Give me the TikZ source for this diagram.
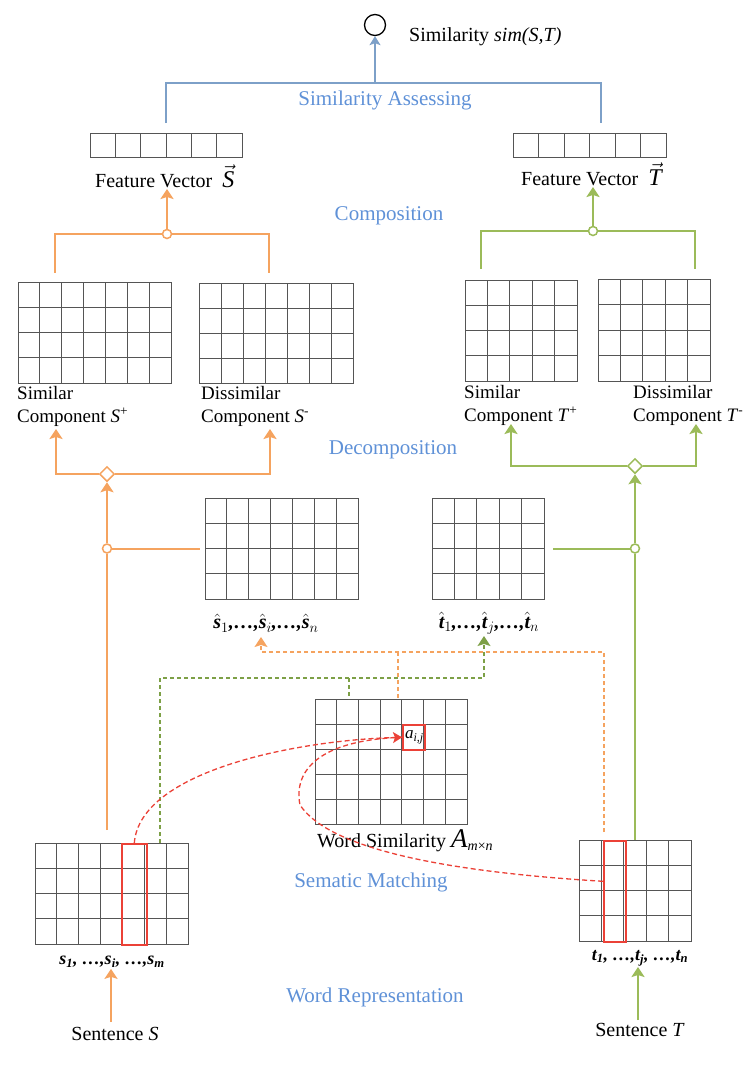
\documentclass[tikz,border=0pt]{standalone}
\usepackage{fontspec}
\setmainfont{Liberation Serif}
\usetikzlibrary{arrows.meta,shapes.geometric,calc}

\definecolor{orn}{RGB}{245,163,95}
\definecolor{grn}{RGB}{155,187,89}
\definecolor{grnd}{RGB}{125,160,70}
\definecolor{blu}{RGB}{95,145,215}
\definecolor{blul}{RGB}{125,160,200}
\definecolor{rd}{RGB}{235,65,55}
\definecolor{gridc}{RGB}{85,85,85}

\tikzset{
 gridbox/.style={draw=gridc, line width=1pt, inner sep=0pt, outer sep=0pt, anchor=north west},
 gridln/.style={draw=gridc, line width=0.9pt},
 lbl/.style={font=\fontsize{20}{23}\selectfont, inner sep=1pt},
 cmp/.style={font=\fontsize{19}{23}\selectfont, inner sep=1pt, anchor=west, align=left},
 idx/.style={font=\fontsize{18}{22}\selectfont\bfseries\itshape, inner sep=1pt},
 hidx/.style={font=\fontsize{20}{22}\selectfont\bfseries\itshape, inner sep=1pt},
 stage/.style={font=\fontsize{21}{24}\selectfont, text=blu, inner sep=1pt},
 oline/.style={draw=orn, line width=2pt},
 gline/.style={draw=grn, line width=2pt},
 bline/.style={draw=blul, line width=2pt},
 tipo/.style={-{Stealth[width=13pt,length=10pt,inset=2pt]}},
 oarr/.style={oline, tipo},
 garr/.style={gline, tipo},
 barr/.style={bline, -{Stealth[width=11pt,length=9pt,inset=2pt]}},
 junc/.style={circle, draw, fill=white, line width=1.5pt, minimum size=9pt, inner sep=0pt},
 djunc/.style={diamond, draw, fill=white, line width=1.5pt, minimum size=15pt, inner sep=0pt},
 odash/.style={draw=orn, line width=1.3pt, dash pattern=on 4pt off 3pt},
 gdash/.style={draw=grnd, line width=1.3pt, dash pattern=on 4pt off 3pt},
 rdash/.style={draw=rd, line width=1.3pt, dash pattern=on 5pt off 3pt},
 redbox/.style={draw=rd, line width=1.6pt, inner sep=0pt, anchor=north west},
}

% name, x1, y1, x2, y2, cols, rows
\newcommand\mkgrid[7]{%
  \node[gridbox, minimum width={(#4-#2)*1pt}, minimum height={(#5-#3)*1pt}] (#1) at (#2,#3) {};
  \pgfmathtruncatemacro\gcA{#6-1}%
  \pgfmathtruncatemacro\gcB{#7-1}%
  \ifnum\gcA>0
  \foreach \k in {1,...,\gcA} {\draw[gridln] ({#2+(#4-#2)*\k/#6},#3) -- ({#2+(#4-#2)*\k/#6},#5);}
  \fi
  \ifnum\gcB>0
  \foreach \k in {1,...,\gcB} {\draw[gridln] (#2,{#3+(#5-#3)*\k/#7}) -- (#4,{#3+(#5-#3)*\k/#7});}
  \fi
}
\newcommand\hatv[2]{$\hat{\mbox{\bfseries\itshape #1}}_{#2}$}

\begin{document}
\begin{tikzpicture}[x=1pt,y=-1pt]
\useasboundingbox (0,0) rectangle (752,1066);

% ---------- grids ----------
\mkgrid{fvS}{90}{133}{242}{157}{6}{1}
\mkgrid{fvT}{513}{133}{666}{157}{6}{1}
\mkgrid{spgrid}{18}{282}{171}{383}{7}{4}
\mkgrid{smgrid}{199}{283}{353}{383}{7}{4}
\mkgrid{tpgrid}{465}{280}{577}{381}{5}{4}
\mkgrid{tmgrid}{598}{279}{710}{381}{5}{4}
\mkgrid{shat}{205}{498}{358}{599}{7}{4}
\mkgrid{that}{432}{498}{544}{599}{5}{4}
\mkgrid{wsim}{315}{699}{467}{824}{7}{5}
\mkgrid{sgrid}{35}{843}{188}{944}{7}{4}
\mkgrid{tgrid}{579}{840}{691}{941}{5}{4}

% red highlights
\node[redbox, minimum width=25pt, minimum height=101pt] (sred) at (121,843) {};
\node[redbox, minimum width=22pt, minimum height=101pt] (tred) at (603,840) {};
\node[redbox, minimum width=22pt, minimum height=25pt, font=\fontsize{17}{17}\selectfont] (aij) at (402,724)
  {\hspace*{1pt}\textit{a}\textsubscript{\textit{i,j}}\hfill};

% ---------- labels ----------
\node[circle, draw, line width=1.3pt, minimum size=21pt, inner sep=0pt] (sim) at (375,25) {};
\node[lbl, anchor=west] (simlab) at (408,37) {Similarity \textit{sim(S,T)}};
\node[stage] (assess) at (385,100) {Similarity Assessing};
\node[lbl, anchor=west] (fvSlab) at (94,176) {Feature Vector\enspace{\fontsize{24}{24}\selectfont$\vec{\mbox{\textit{S}}}$}};
\node[lbl, anchor=west] (fvTlab) at (520,174) {Feature Vector\enspace{\fontsize{24}{24}\selectfont$\vec{\mbox{\textit{T}}}$}};
\node[stage] (compo) at (389,216) {Composition};
\node[cmp] (splab) at (16,406) {Similar\\Component \textit{S}\textsuperscript{+}};
\node[cmp] (smlab) at (200,406) {Dissimilar\\Component \textit{S}\textsuperscript{-}};
\node[cmp] (tplab) at (463,405) {Similar\\Component \textit{T}\textsuperscript{+}};
\node[cmp] (tmlab) at (632,405) {Dissimilar\\Component \textit{T}\textsuperscript{-}};
\node[stage] (decomp) at (393,450) {Decomposition};
\node[hidx] (shatlab) at (266,623) {\hatv{s}{1},…,\hatv{s}{i},…,\hatv{s}{n}};
\node[hidx] (thatlab) at (489,623) {\hatv{t}{1},…,\hatv{t}{j},…,\hatv{t}{n}};
\node[lbl, anchor=west] (wslab) at (316,841) {Word Similarity {\fontsize{27}{27}\selectfont\textit{A}}\textsubscript{\textit{m}×\textit{n}}};
\node[stage] (match) at (371,882) {Sematic Matching};
\node[stage] (wrep) at (375,997) {Word Representation};
\node[idx] (slab) at (112,962) {s\textsubscript{1}, …,s\textsubscript{i}, …,s\textsubscript{m}};
\node[idx] (tlab) at (640,958) {t\textsubscript{1}, …,t\textsubscript{j}, …,t\textsubscript{n}};
\node[lbl] (sentS) at (115,1034) {Sentence \textit{S}};
\node[lbl] (sentT) at (640,1030) {Sentence \textit{T}};

% ---------- junctions ----------
\node[junc, draw=orn] (oc) at (167,234) {};
\node[junc, draw=grn] (gc) at (593,231) {};
\node[djunc, draw=orn] (od) at (107,474) {};
\node[djunc, draw=grn] (gd) at (635,466) {};
\node[junc, draw=orn] (oh) at (107,548.5) {};
\node[junc, draw=grn] (gh) at (635,548.5) {};

\coordinate (bj) at (375,83);
\coordinate (bl) at (166,123);
\coordinate (br) at (601,123);
\coordinate (fvSa) at (167,189);
\coordinate (fvTa) at (593,187);
\coordinate (ocl) at (55,273);
\coordinate (ocr) at (269,273);
\coordinate (gcl) at (481,269);
\coordinate (gcr) at (695,269);
\coordinate (osp) at (56,429);
\coordinate (osm) at (270,429);
\coordinate (gtp) at (511,424);
\coordinate (gtm) at (696,424);
\coordinate (oj) at (398,652);
\coordinate (odr) at (604,832);
\coordinate (ota) at (261,637);
\coordinate (gj) at (349,678);
\coordinate (gds) at (160,843);
\coordinate (gta) at (484,636);
\coordinate (sin) at (111,1022);
\coordinate (tin) at (638,1020);

% ---------- similarity assessing ----------
\draw[bline] (bl) -- (bl |- bj) -- (br |- bj) -- (br);
\draw[barr] (bj) -- (sim.south);

% ---------- composition ----------
\draw[oline] (oc.west) -| (ocl);
\draw[oline] (oc.east) -| (ocr);
\draw[oarr] (oc.north) -- (fvSa);
\draw[gline] (gc.west) -| (gcl);
\draw[gline] (gc.east) -| (gcr);
\draw[garr] (gc.north) -- (fvTa);

% ---------- decomposition ----------
\draw[oarr] (od.west) -| (osp);
\draw[oarr] (od.east) -| (osm);
\draw[garr] (gd.west) -| (gtp);
\draw[garr] (gd.east) -| (gtm);
\draw[oarr] (oh.north) -- (od.south);
\draw[garr] (gh.north) -- (gd.south);
\draw[oline, shorten <=13pt] (oh |- sgrid.north) -- (oh.south);
\draw[gline] (gh |- tgrid.north) -- (gh.south);
\draw[oline, shorten >=5pt] (oh.east) -- (shat.west);
\draw[gline, shorten <=9pt] (that.east) -- (gh.west);

% ---------- matching (dashed) ----------
\draw[odash, tipo] (odr) -- (odr |- oj) -- (ota |- oj) -- (ota);
\draw[odash] (oj) -- (oj |- wsim.north);
\draw[gdash, tipo] (gds) -- (gds |- gj) -- (gta |- gj) -- (gta);
\draw[gdash] (gj) -- (gj |- wsim.north);

\draw[rdash, -{Stealth[width=11pt,length=9pt,inset=2pt]}] (sred.north) .. controls (140,770) and (300,740) .. (aij.west);
\draw[rdash] ([yshift=10pt]tred.west) .. controls (450,872) and (330,850) .. (300,805) .. controls (293,770) and (320,740) .. (aij.west);

% ---------- inputs ----------
\draw[oarr] (sin) -- (sin |- slab.south);
\draw[garr] (tin) -- (tin |- tlab.south);
\end{tikzpicture}
\end{document}
